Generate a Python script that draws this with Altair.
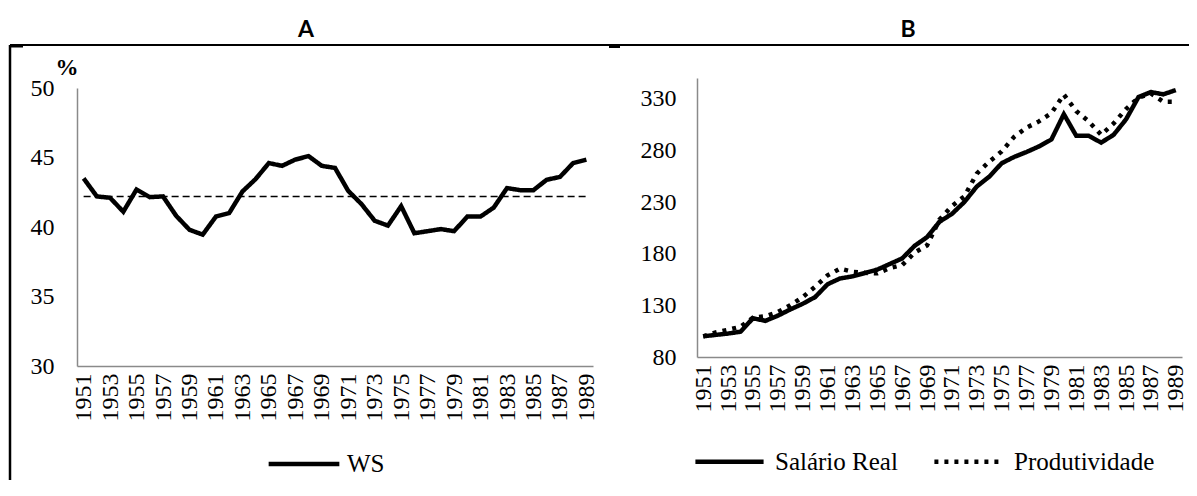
import altair as alt
import pandas as pd

# ---------------- data ----------------
years = [1951, 1952, 1953, 1954, 1955, 1956, 1957, 1958, 1959, 1960,
         1961, 1962, 1963, 1964, 1965, 1966, 1967, 1968, 1969, 1970,
         1971, 1972, 1973, 1974, 1975, 1976, 1977, 1978, 1979, 1980,
         1981, 1982, 1983, 1984, 1985, 1986, 1987, 1988, 1989]

ws = [43.5, 42.2, 42.1, 41.1, 42.7, 42.15, 42.2, 40.8, 39.8, 39.45,
      40.75, 41.0, 42.55, 43.45, 44.6, 44.4, 44.85, 45.1, 44.4, 44.25,
      42.6, 41.65, 40.45, 40.1, 41.5, 39.55, 39.7, 39.85, 39.7, 40.75,
      40.75, 41.4, 42.8, 42.65, 42.65, 43.4, 43.6, 44.6, 44.85]
ws_mean = 42.2

salario = [100, 101.4, 102.7, 104.5, 117.5, 115, 120, 126, 131.5, 138,
           150.4, 156, 158, 161.3, 164.6, 170, 175.4, 187.6, 196, 210.9,
           218.5, 230, 245, 254.5, 267.5, 273.6, 278.4, 283.8, 290.5, 315,
           294, 294, 287.5, 295, 310, 331.5, 336.4, 334.2, 338.3]

produtividade = [100, 103.7, 106.3, 109.3, 118, 119.5, 123.5, 130, 138, 148,
                 159, 165.5, 162.5, 161.5, 161, 166, 169, 181, 188, 213,
                 226, 235.5, 257.5, 269, 279, 293, 302, 308, 316, 334,
                 318, 308, 295, 306, 320, 331, 335, 327, 327]

x_label_years = [1951, 1953, 1955, 1957, 1959, 1961, 1963, 1965, 1967, 1969,
                 1971, 1973, 1975, 1977, 1979, 1981, 1983, 1985, 1987, 1989]
a_y_ticks = [30, 35, 40, 45, 50]
b_y_ticks = [80, 130, 180, 230, 280, 330]
series_a = ["WS"]
series_b = ["Salário Real", "Produtividade"]
panel_titles = ["A", "B"]

# ---------------- layout / style ----------------
W, H = 1181, 472
SERIF = "Liberation Serif, Times New Roman, serif"
SANS = "Lato, Open Sans, sans-serif"
AXIS_GREY = "#8a8a8a"
X_LABEL_SIZE = 24
Y_LABEL_SIZE = 24
LEGEND_SIZE = 25

dfA = pd.DataFrame({"year": years, "value": ws, "serie": series_a[0]})
dfMean = pd.DataFrame({"year": [years[0], years[-1]], "value": [ws_mean, ws_mean]})
dfB = pd.concat([
    pd.DataFrame({"year": years, "value": salario, "serie": series_b[0]}),
    pd.DataFrame({"year": years, "value": produtividade, "serie": series_b[1]}),
], ignore_index=True)
one = pd.DataFrame({"k": [0]})

x_axis_common = dict(values=x_label_years, format="d", labelAngle=270, orient="bottom",
                     title=None, labelFont=SERIF, labelFontSize=X_LABEL_SIZE,
                     labelColor="black", labelPadding=7, labelOverlap=False,
                     labelFlush=False, labelBound=False, ticks=False, grid=False,
                     domainColor=AXIS_GREY, domainWidth=1.5)
y_axis_common = dict(orient="left", title=None, labelFont=SERIF, labelFontSize=Y_LABEL_SIZE,
                     labelColor="black", ticks=False, grid=False,
                     domainColor=AXIS_GREY, domainWidth=1.5, labelOverlap=False)

# ---- panel A ----
xA = alt.X("year:Q",
           scale=alt.Scale(domain=[1950.5, 1989.5], range=[69, 585], nice=False, zero=False),
           axis=alt.Axis(offset=-(H - 358), **x_axis_common))
yA = alt.Y("value:Q",
           scale=alt.Scale(domain=[30, 50], range=[358, 80], nice=False, zero=False),
           axis=alt.Axis(values=a_y_ticks, offset=-69, labelPadding=23, **y_axis_common))

legend_common = dict(orient="none", direction="horizontal", title=None,
                     symbolType="stroke", symbolStrokeWidth=4.5, symbolStrokeColor="black",
                     labelFont=SERIF, labelFontSize=LEGEND_SIZE, labelColor="black",
                     padding=0)

lineA = alt.Chart(dfA).mark_line(stroke="black", strokeWidth=4.5).encode(
    x=xA, y=yA,
    strokeDash=alt.StrokeDash("serie:N",
        scale=alt.Scale(domain=series_a, range=[[1, 0]]),
        legend=alt.Legend(legendX=258, legendY=418, symbolSize=5000, labelOffset=5,
                          **legend_common)),
)
meanA = alt.Chart(dfMean).mark_line(stroke="black", strokeWidth=1.5, strokeDash=[7, 4]).encode(
    x=xA, y=yA,
)
chartA = alt.layer(meanA, lineA)

# ---- panel B ----
xB = alt.X("year:Q",
           scale=alt.Scale(domain=[1950.5, 1989.5], range=[689, 1174], nice=False, zero=False),
           axis=alt.Axis(offset=-(H - 349), **x_axis_common))
yB = alt.Y("value:Q",
           scale=alt.Scale(domain=[80, 350], range=[349, 70], nice=False, zero=False),
           axis=alt.Axis(values=b_y_ticks, offset=-689, labelPadding=21, **y_axis_common))

chartB = alt.Chart(dfB).mark_line(stroke="black", strokeWidth=4.5, strokeCap="butt").encode(
    x=xB, y=yB,
    strokeDash=alt.StrokeDash("serie:N",
        scale=alt.Scale(domain=series_b, range=[[1, 0], [4, 6]]),
        sort=series_b,
        legend=alt.Legend(legendX=685, legendY=417, symbolSize=4650, labelOffset=9,
                          columnPadding=27, **legend_common)),
)

# ---- frame, panel titles, unit ----
frame_top = alt.Chart(one).mark_rule(color="black", strokeWidth=2).encode(
    x=alt.value(2), x2=alt.value(W), y=alt.value(37))
frame_left = alt.Chart(one).mark_rule(color="black", strokeWidth=2.5).encode(
    x=alt.value(2), y=alt.value(37), y2=alt.value(H))
corner1 = alt.Chart(one).mark_rule(color="black", strokeWidth=3).encode(
    x=alt.value(2), x2=alt.value(15), y=alt.value(38))
corner2 = alt.Chart(one).mark_rule(color="black", strokeWidth=3).encode(
    x=alt.value(601), x2=alt.value(612), y=alt.value(38.5))

titleA = alt.Chart(one).mark_text(text=panel_titles[0], font=SANS, fontWeight="bold",
                                  fontSize=23, color="black").encode(
    x=alt.value(298), y=alt.value(22))
titleB = alt.Chart(one).mark_text(text=panel_titles[1], font=SANS, fontWeight="bold",
                                  fontSize=23, color="black").encode(
    x=alt.value(900), y=alt.value(22))
pct = alt.Chart(one).mark_text(text="%", font=SERIF, fontWeight="bold",
                               fontSize=23, color="black").encode(
    x=alt.value(59), y=alt.value(60))

chart = alt.layer(
    frame_top, frame_left, corner1, corner2, titleA, titleB, pct, chartA, chartB
).resolve_scale(
    x="independent", y="independent", strokeDash="independent"
).properties(
    width=W, height=H, autosize=alt.AutoSizeParams(type="none"), padding=0
).configure_view(
    stroke=None
).configure_axis(
    grid=False, ticks=False, tickSize=0, domainColor=AXIS_GREY, domainWidth=1.5,
    labelFont=SERIF, labelColor="black"
)

chart.save("out.html", embed_options={"renderer": "svg", "actions": False})
